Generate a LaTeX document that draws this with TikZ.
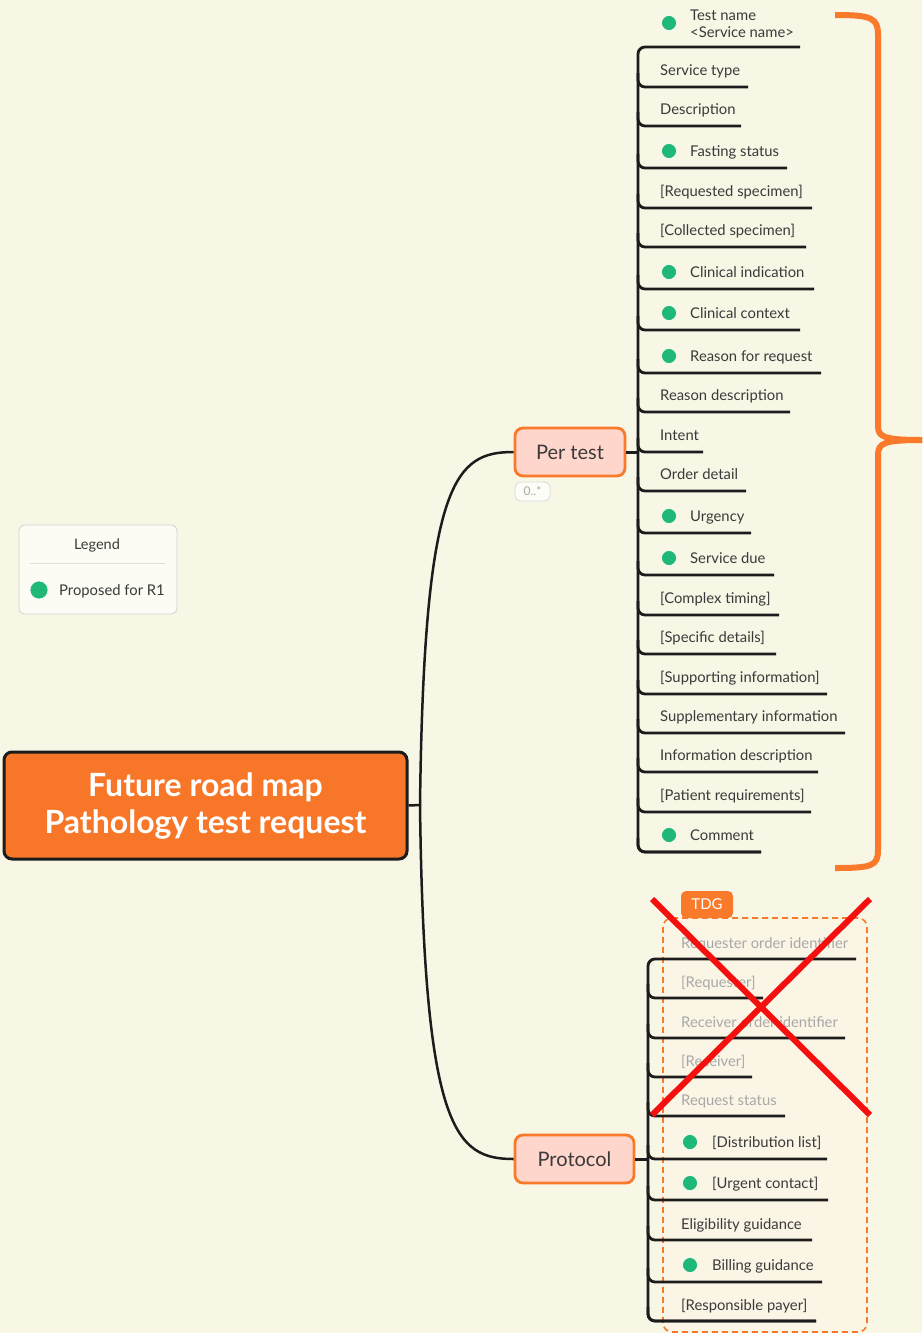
\documentclass[tikz,border=0pt]{standalone}
\usepackage{fontspec}
\setmainfont{Lato}
\definecolor{bgc}{HTML}{F8F7E6}
\definecolor{orangec}{HTML}{F97A2A}
\definecolor{rootc}{HTML}{F77627}
\definecolor{pinkc}{HTML}{FFD6CC}
\definecolor{dotc}{HTML}{1FB877}
\definecolor{textc}{HTML}{3A3A3A}
\definecolor{greyc}{HTML}{A8A8A8}
\definecolor{linec}{HTML}{1C1C1C}
\definecolor{redc}{HTML}{F51010}
\definecolor{tdgfill}{HTML}{FBF5E6}
\begin{document}
\begin{tikzpicture}[x=1pt,y=-1pt,
  leafline/.style={draw=linec, line width=2.8pt, rounded corners=7pt},
  conn/.style={draw=linec, line width=2.5pt},
  leaftext/.style={anchor=base west, inner sep=0pt, font=\fontsize{14.8}{17}\selectfont, text=textc},
  greytext/.style={leaftext, text=greyc},
  gdot/.style={circle, fill=dotc, draw=white, line width=0.6pt, minimum size=15pt, inner sep=0pt},
  topicbox/.style={draw=orangec, fill=pinkc, line width=2.8pt, rounded corners=8pt, text=textc, font=\fontsize{20}{24}\selectfont, inner sep=0pt}
]
\fill[bgc] (0,0) rectangle (922,1333);
\useasboundingbox (0,0) rectangle (922,1333);

% legend
\node[draw=black!18, fill=white!60!bgc, rounded corners=6pt, line width=0.8pt, minimum width=158pt, minimum height=89pt, inner sep=0pt] (legend) at (98,569.5) {};
\node[font=\fontsize{14.5}{16}\selectfont, text=textc, inner sep=0pt] (legtitle) at (97,545) {Legend};
\coordinate (ls1) at (30,563);
\coordinate (ls2) at (165,563);
\draw[black!13, line width=1pt] (ls1) -- (ls2);
\node[gdot, minimum size=18pt] (legdot) at (39,590) {};
\node[leaftext] (legtext) at (59,595) {Proposed for R1};

% root
\node[draw=linec, fill=rootc, line width=3pt, rounded corners=8pt, minimum width=403pt, minimum height=107pt, inner sep=0pt, text=white, align=center, font=\fontsize{32}{37}\selectfont\bfseries] (root) at (205.5,805.5) {Future road map\\Pathology test request};

% topics
\node[topicbox, minimum width=110pt, minimum height=48pt] (pertest) at (570,452) {Per test};
\node[draw=black!15, fill=white!70!bgc, rounded corners=6pt, line width=0.8pt, minimum width=35pt, minimum height=19pt, inner sep=0pt, text=greyc, font=\fontsize{12}{13}\selectfont] (card) at (532.5,491.5) {0..*};
\node[topicbox, minimum width=119pt, minimum height=48pt] (protocol) at (574.5,1159) {Protocol};

\coordinate (j) at (420,805);
\draw[conn] (root.east) -- (j);
\draw[conn] (j) .. controls (424,480) and (455,452) .. (pertest.west);
\draw[conn] (j) .. controls (424,1130) and (455,1159) .. (protocol.west);

% Per test branch
\coordinate (pt) at (638,452);
\draw[conn, line width=3pt] (pertest.east) -- (pt);
\coordinate (a1e) at (800,47);
\coordinate (a21e) at (761,852);
\draw[leafline] (a1e) -- (638,47) -- (638,852) -- (a21e);
\node[gdot] (a1d) at (669,23) {};
\node[leaftext, align=left, anchor=west, font=\fontsize{14.8}{17}\selectfont] (a1) at (690,24) {Test name\\<Service name>};
\foreach \n/\y/\e/\d/\t in {a2/87/748/0/Service type, a3/126/741/0/Description, a4/168/787/1/Fasting status, a5/208/812/0/[Requested specimen], a6/247/806/0/[Collected specimen], a7/289/814/1/Clinical indication, a8/330/800/1/Clinical context, a9/373/821/1/Reason for request, a10/412/790/0/Reason description, a11/452/703/0/Intent, a12/491/746/0/Order detail, a13/533/751/1/Urgency, a14/575/774/1/Service due, a15/615/779/0/[Complex timing], a16/654/776/0/[Specific details], a17/694/827/0/[Supporting information], a18/733/845/0/Supplementary information, a19/772/818/0/Information description, a20/812/811/0/[Patient requirements], a21/852/761/1/Comment}{
  \coordinate (\n e) at (\e,\y);
  \draw[leafline] (638,\y-14) |- (\n e);
  \ifnum\d=1
    \node[gdot] (\n d) at (669,\y-17) {};
    \node[leaftext] (\n) at (690,\y-11.5) {\t};
  \else
    \node[leaftext] (\n) at (660,\y-11.5) {\t};
  \fi
}

% brace
\draw[orangec, line width=6pt, line cap=butt] (835,15) .. controls (872,15) and (878,18) .. (878,35) -- (878,426) .. controls (878,437) and (884,440) .. (922,440);
\draw[orangec, line width=6pt, line cap=butt] (922,440) .. controls (884,440) and (878,443) .. (878,455) -- (878,850) .. controls (878,866) and (872,868) .. (835,868);

% TDG box
\node[draw=orangec, fill=tdgfill, dashed, dash pattern=on 6pt off 4pt, line width=1.6pt, rounded corners=9pt, minimum width=204pt, minimum height=414pt, inner sep=0pt] (tdgbox) at (765,1125) {};
\node[fill=orangec, rounded corners=5pt, minimum width=52pt, minimum height=27pt, inner sep=0pt, text=white, font=\fontsize{15}{17}\selectfont] (tdg) at (707,904.5) {TDG};

% Protocol branch
\coordinate (pc) at (648,1159);
\draw[conn, line width=3pt] (protocol.east) -- (pc);
\coordinate (b1e) at (856,959);
\coordinate (b10e) at (816,1321);
\draw[leafline] (b1e) -- (648,959) -- (648,1321) -- (b10e);
\node[greytext] (b1) at (681,948) {Requester order identifier};
\foreach \n/\y/\e/\d/\g/\t in {b2/998/763/0/1/[Requester], b3/1038/845/0/1/Receiver order identifier, b4/1077/752/0/1/[Receiver], b5/1116/785/0/1/Request status, b6/1159/827/1/0/[Distribution list], b7/1200/828/1/0/[Urgent contact], b8/1240/812/0/0/Eligibility guidance, b9/1282/822/1/0/Billing guidance, b10/1321/816/0/0/[Responsible payer]}{
  \coordinate (\n e) at (\e,\y);
  \draw[leafline] (648,\y-14) |- (\n e);
  \ifnum\d=1
    \node[gdot] (\n d) at (690,\y-17) {};
    \node[leaftext] (\n) at (712,\y-11.5) {\t};
  \else
    \ifnum\g=1
      \node[greytext] (\n) at (681,\y-11) {\t};
    \else
      \node[leaftext] (\n) at (681,\y-11) {\t};
    \fi
  \fi
}

% red cross
\coordinate (x1) at (652,899);
\coordinate (x2) at (870,1115);
\coordinate (x3) at (870,899);
\coordinate (x4) at (652,1115);
\draw[redc, line width=6pt] (x1) -- (x2);
\draw[redc, line width=6pt] (x3) -- (x4);
\end{tikzpicture}
\end{document}
